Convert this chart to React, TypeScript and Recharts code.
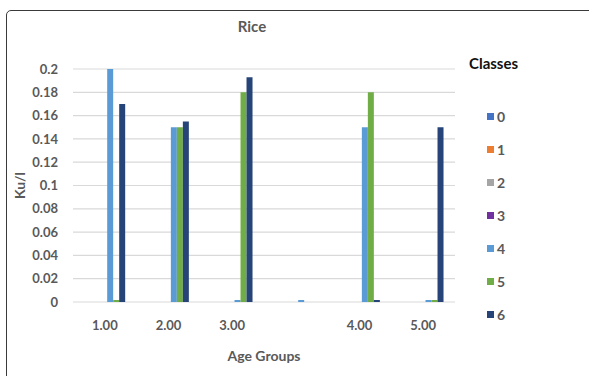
import React from "react";
import { BarChart, Bar, XAxis, YAxis, CartesianGrid, Legend } from "recharts";

// Age groups (the 4th group has no label in the original)
const ageGroups = ["1.00", "2.00", "3.00", "", "4.00", "5.00"];

// Ku/l per class; null = no bar, 0 = flat stub at the baseline
const class0 = [null, null, null, null, null, null];
const class1 = [null, null, null, null, null, null];
const class2 = [null, null, null, null, null, null];
const class3 = [null, null, null, null, null, null];
const class4 = [0.2, 0.15, 0, 0, 0.15, 0];
const class5 = [0, 0.15, 0.18, null, 0.18, 0];
const class6 = [0.17, 0.155, 0.193, null, 0, 0.15];

const yTicks = [0, 0.02, 0.04, 0.06, 0.08, 0.1, 0.12, 0.14, 0.16, 0.18, 0.2];

const classes = [
  { key: "0", values: class0, color: "#4472C4" },
  { key: "1", values: class1, color: "#ED7D31" },
  { key: "2", values: class2, color: "#A5A5A5" },
  { key: "3", values: class3, color: "#7030A0" },
  { key: "4", values: class4, color: "#5B9BD5" },
  { key: "5", values: class5, color: "#70AD47" },
  { key: "6", values: class6, color: "#264478" },
];

const data = ageGroups.map((g, i) => {
  const row: Record<string, string | number | null> = { group: g };
  classes.forEach((c) => {
    row[c.key] = c.values[i];
  });
  return row;
});

const FONT = "Lato, 'Open Sans', sans-serif";
const GRAY = "#595959";

const LegendBox = (props: any) => {
  const { payload } = props;
  return (
    <div style={{ fontFamily: FONT }}>
      {(payload || []).map((p: any) => (
        <div key={p.value} style={{ display: "flex", alignItems: "center", height: 33 }}>
          <span style={{ display: "inline-block", width: 7, height: 7, background: p.color, marginRight: 3 }} />
          <span style={{ fontSize: 14, fontWeight: 700, color: GRAY }}>{p.value}</span>
        </div>
      ))}
    </div>
  );
};

const stub = (v: any) => (v === 0 ? 2 : 0);

export default function App() {
  return (
    <div style={{ position: "absolute", left: 0, top: 0, width: 589, height: 376, overflow: "hidden", background: "#fff" }}>
      <div
        style={{
          position: "absolute",
          left: 6,
          top: 10,
          width: 620,
          height: 400,
          border: "1.5px solid #3a3a3a",
          borderRadius: 5,
        }}
      />
      <div
        style={{
          position: "absolute",
          left: 202,
          width: 100,
          top: 17,
          textAlign: "center",
          fontFamily: FONT,
          fontSize: 15,
          fontWeight: 700,
          color: GRAY,
        }}
      >
        Rice
      </div>
      <div
        style={{
          position: "absolute",
          left: 469,
          top: 54,
          fontFamily: FONT,
          fontSize: 15,
          fontWeight: 700,
          color: "#111",
        }}
      >
        Classes
      </div>
      <div style={{ position: "absolute", left: 0, top: 0 }}>
        <BarChart
          width={589}
          height={376}
          data={data}
          margin={{ top: 69, right: 74, bottom: 0, left: 0 }}
          barCategoryGap="16%"
          barGap={0}
        >
          <CartesianGrid horizontal vertical={false} stroke="#d9d9d9" strokeWidth={1.2} />
          <XAxis
            dataKey="group"
            axisLine={false}
            tickLine={false}
            tickSize={0}
            tickMargin={19}
            height={74}
            tick={{ fill: GRAY, fontSize: 13, fontWeight: 700, fontFamily: FONT }}
            interval={0}
            label={{
              value: "Age Groups",
              position: "insideBottom",
              offset: 15,
              fill: GRAY,
              fontSize: 14,
              fontWeight: 700,
              fontFamily: FONT,
            }}
          />
          <YAxis
            width={73}
            domain={[0, 0.2]}
            ticks={yTicks}
            interval={0}
            axisLine={false}
            tickLine={false}
            tickSize={0}
            tickMargin={15}
            tickFormatter={(v: number) => String(v)}
            tick={{ fill: GRAY, fontSize: 13, fontWeight: 700, fontFamily: FONT }}
            label={{
              value: "Ku/l",
              angle: -90,
              position: "insideLeft",
              offset: 20,
              fill: GRAY,
              fontSize: 14,
              fontWeight: 700,
              fontFamily: FONT,
              style: { textAnchor: "middle" },
            }}
          />
          <Legend
            layout="vertical"
            align="right"
            verticalAlign="top"
            content={<LegendBox />}
            wrapperStyle={{ left: 487, top: 100, width: 60 }}
          />
          {classes.map((c) => (
            <Bar
              key={c.key}
              dataKey={c.key}
              name={c.key}
              fill={c.color}
              isAnimationActive={false}
              minPointSize={stub}
            />
          ))}
        </BarChart>
      </div>
    </div>
  );
}
